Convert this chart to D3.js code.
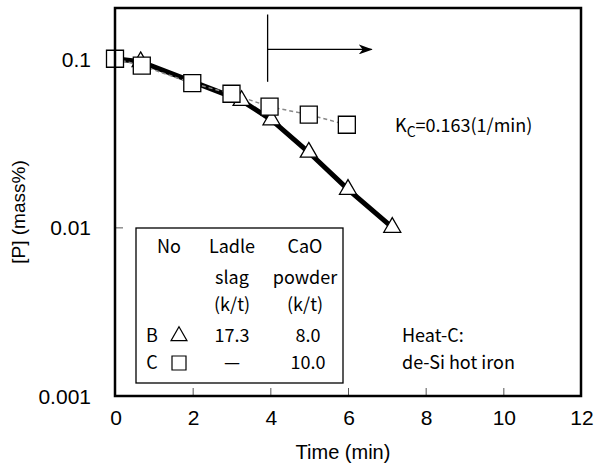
<!DOCTYPE html>
<html lang="en"><head>
<meta charset="utf-8">
<title>P vs time</title>
<script type="text/javascript" src="https://cdn.jsdelivr.net/npm/d3@7"></script>
<style type="text/css">
  body { margin: 0; background: #fff; }
  text { font-family: "Liberation Sans", Arial, sans-serif; fill: #000; }
  .jp { font-family: "Noto Sans CJK JP", "Liberation Sans", sans-serif; }
</style>
</head>
<body>
<svg width="594" height="470"></svg>
<script type="text/javascript">

// series B (triangles, thick line)
var timeB = [0, 0.66, 3.26, 4.03, 4.99, 6.0, 7.14];
var pB    = [0.1, 0.096, 0.0565, 0.0434, 0.0279, 0.0168, 0.0100];
var markB = [false, true, true, true, true, true, true];

// series C (squares, dashed line)
var timeC = [0, 0.69, 1.99, 3.0, 3.98, 4.99, 5.97];
var pC    = [0.1, 0.091, 0.0716, 0.062, 0.052, 0.0466, 0.0406];

var xTicks = [0, 2, 4, 6, 8, 10, 12];
var yTicks = [0.1, 0.01, 0.001];

// legend table rows (symbol drawn as shape)
var legendHead = [["No", "Ladle", "CaO"], ["", "slag", "powder"], ["", "(k/t)", "(k/t)"]];
var legendRows = [["B", "tri", "17.3", "8.0"], ["C", "sq", "—", "10.0"]];

var svg = d3.select("svg"),
    pLeft = 115, pRight = 581, pTop = 8, pBottom = 396;

var x = d3.scaleLinear().domain([0, 12]).range([pLeft, pRight]);
var y = d3.scaleLog().domain([0.001, 0.2]).range([pBottom, pTop]);

// ticks inside the box
svg.append("g")
    .attr("transform", "translate(0," + pBottom + ")")
    .call(d3.axisTop(x).tickValues(xTicks).tickSize(8).tickFormat(""))
    .call(function(g){ g.select(".domain").remove(); g.selectAll("line").attr("stroke", "#555"); });

svg.append("g")
    .attr("transform", "translate(" + pLeft + ",0)")
    .call(d3.axisRight(y).tickValues(yTicks).tickSize(8).tickFormat(""))
    .call(function(g){ g.select(".domain").remove(); g.selectAll("line").attr("stroke", "#555"); });

// tick labels
svg.selectAll("xl").data(xTicks).enter().append("text")
    .attr("x", function(d){ return x(d) + 1; })
    .attr("y", pBottom + 29)
    .attr("text-anchor", "middle")
    .style("font-size", "21px")
    .text(function(d){ return d; });

svg.selectAll("yl").data(yTicks).enter().append("text")
    .attr("x", 91)
    .attr("y", function(d){ return y(d) + 8; })
    .attr("text-anchor", "end")
    .style("font-size", "21px")
    .text(function(d){ return d; });

svg.append("text")
    .attr("x", 343).attr("y", 459)
    .attr("text-anchor", "middle")
    .style("font-size", "20px")
    .text("Time (min)");

svg.append("text")
    .attr("transform", "translate(25,212) rotate(-90)")
    .attr("text-anchor", "middle")
    .style("font-size", "19px")
    .text("[P] (mass%)");

// arrow marking the interval
svg.append("defs").append("marker")
    .attr("id", "head")
    .attr("viewBox", "0 0 14 10")
    .attr("refX", 13).attr("refY", 5)
    .attr("markerWidth", 14).attr("markerHeight", 10)
    .attr("markerUnits", "userSpaceOnUse")
    .attr("orient", "auto")
  .append("path")
    .attr("d", "M0,0 L14,5 L0,10 L4,5 Z")
    .attr("fill", "#000");

svg.append("line")
    .attr("x1", x(3.93)).attr("x2", x(3.93))
    .attr("y1", y(0.183)).attr("y2", y(0.073))
    .attr("stroke", "#000").attr("stroke-width", 1.3);

svg.append("line")
    .attr("x1", x(3.93)).attr("x2", x(6.61))
    .attr("y1", y(0.1136)).attr("y2", y(0.1136))
    .attr("stroke", "#000").attr("stroke-width", 1.3)
    .attr("marker-end", "url(#head)");

// lines
var dataB = timeB.map(function(t, i){ return {t: t, p: pB[i], m: markB[i]}; });
var dataC = timeC.map(function(t, i){ return {t: t, p: pC[i]}; });
var line = d3.line().x(function(d){ return x(d.t); }).y(function(d){ return y(d.p); });

svg.append("path").datum(dataB)
    .attr("d", line)
    .attr("fill", "none").attr("stroke", "#000").attr("stroke-width", 5);

svg.append("path").datum(dataC)
    .attr("d", line)
    .attr("fill", "none").attr("stroke", "#888").attr("stroke-width", 1.5)
    .attr("stroke-dasharray", "4,3");

// markers
var triSym = d3.symbol().type(d3.symbolTriangle).size(125);
var sqSym = d3.symbol().type(d3.symbolSquare).size(289);

svg.selectAll("tri").data(dataB.filter(function(d){ return d.m; })).enter().append("path")
    .attr("transform", function(d){ return "translate(" + x(d.t) + "," + y(d.p) + ")"; })
    .attr("d", triSym)
    .attr("fill", "#fff").attr("stroke", "#000").attr("stroke-width", 1.3);

svg.selectAll("sq").data(dataC).enter().append("path")
    .attr("transform", function(d){ return "translate(" + x(d.t) + "," + y(d.p) + ")"; })
    .attr("d", sqSym)
    .attr("fill", "#fff").attr("stroke", "#000").attr("stroke-width", 1.3);

// rate constant label
var kc = svg.append("text").attr("class", "jp")
    .attr("x", 395).attr("y", 132)
    .style("font-size", "18px");
kc.append("tspan").text("K");
kc.append("tspan").attr("dy", 5).style("font-size", "14px").text("C");
kc.append("tspan").attr("dy", -5).text("=0.163(1/min)");

// legend table
svg.append("rect")
    .attr("x", 136).attr("y", 228)
    .attr("width", 207).attr("height", 155)
    .attr("fill", "#fff").attr("stroke", "#000").attr("stroke-width", 1.3);

var colX = [169, 232, 305];
var headY = [253, 284, 311];
legendHead.forEach(function(row, r){
    row.forEach(function(s, c){
        svg.append("text").attr("class", "jp")
            .attr("x", colX[c]).attr("y", headY[r])
            .attr("text-anchor", "middle")
            .style("font-size", "18px")
            .text(s);
    });
});

var rowX = [152, 179, 232, 308];
var rowY = [342, 369];
legendRows.forEach(function(row, r){
    row.forEach(function(s, c){
        if (s === "tri" || s === "sq") {
            svg.append("path")
                .attr("transform", "translate(" + rowX[c] + "," + (rowY[r] - 6) + ")")
                .attr("d", d3.symbol().type(s === "tri" ? d3.symbolTriangle : d3.symbolSquare)
                    .size(s === "tri" ? 110 : 196))
                .attr("fill", "#fff").attr("stroke", "#000").attr("stroke-width", 1.2);
            return;
        }
        svg.append("text").attr("class", "jp")
            .attr("x", rowX[c]).attr("y", rowY[r])
            .attr("text-anchor", "middle")
            .style("font-size", "18px")
            .text(s);
    });
});

svg.append("text").attr("class", "jp")
    .attr("x", 402).attr("y", 342).style("font-size", "18px").text("Heat-C:");
svg.append("text").attr("class", "jp")
    .attr("x", 402).attr("y", 369).style("font-size", "18px").text("de-Si hot iron");

// frame
svg.append("rect")
    .attr("x", pLeft).attr("y", pTop)
    .attr("width", pRight - pLeft).attr("height", pBottom - pTop)
    .attr("fill", "none").attr("stroke", "#000").attr("stroke-width", 2.5);

</script>
</body>
</html>
